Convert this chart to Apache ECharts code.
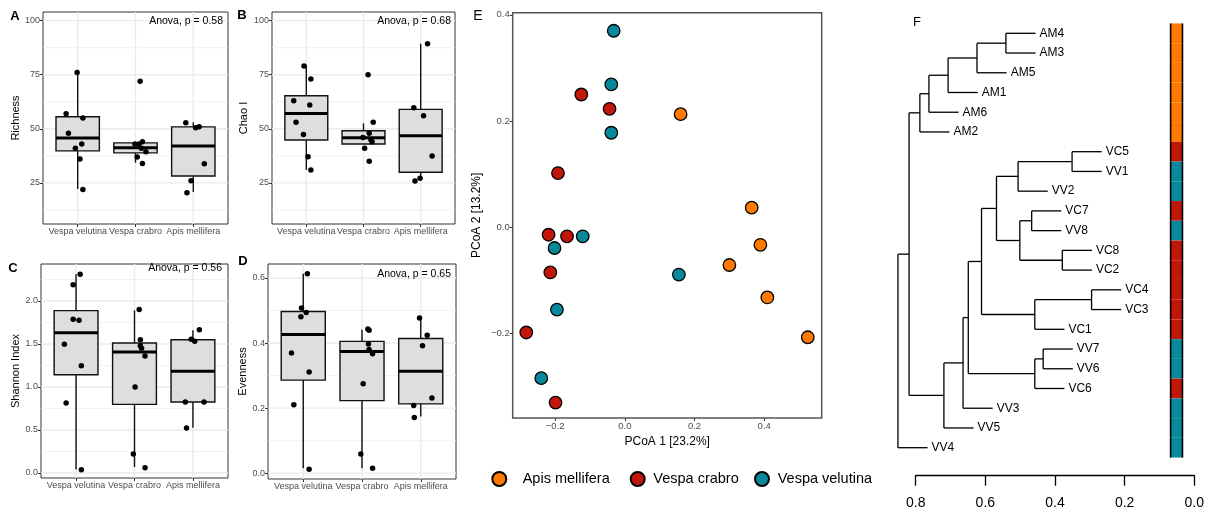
<!DOCTYPE html>
<html>
<head>
<meta charset="utf-8">
<script src="https://cdn.jsdelivr.net/npm/echarts@6/dist/echarts.min.js"></script>
<style>
  html, body { margin: 0; padding: 0; background: #fff; }
  #chart { width: 1212px; height: 510px; }
</style>
</head>
<body>
<div id="chart"></div>
<script>
const groups = ['Vespa velutina', 'Vespa crabro', 'Apis mellifera'];

// A - richness (per group: velutina, crabro, mellifera)
const richPts = [[76, 57, 48, 55, 43, 41, 36, 22], [72, 44, 43, 43, 41, 39.4, 37, 34], [52.8, 50.5, 51, 33.8, 26, 20.4]];
const richJit = [[-0.01, -0.2, -0.16, 0.09, 0.07, -0.04, 0.04, 0.09], [0.08, 0.12, -0.01, 0.06, 0.1, 0.18, 0.03, 0.12], [-0.13, 0.04, 0.1, 0.19, -0.04, -0.11]];
const richBox = [[22.2, 39.8, 45.8, 55.6, 76.4], [34.3, 38.9, 41.2, 43.5, 43.5], [20.8, 28.2, 42.1, 50.9, 53]];

// B - Chao I
const chaoPts = [[79, 73, 63, 61, 53, 47.4, 37.1, 31], [75, 53, 48, 46, 45, 44, 41, 35], [89.3, 59.7, 56, 37.4, 25.9, 27.2]];
const chaoJit = [[-0.04, 0.08, -0.22, 0.06, -0.18, -0.05, 0.03, 0.08], [0.08, 0.17, 0.1, -0.01, 0.13, 0.15, 0.02, 0.1], [0.12, -0.12, 0.05, 0.2, -0.1, -0.01]];
const chaoBox = [[31, 44.8, 57.1, 65.3, 79.3], [43, 43, 45.9, 49.1, 52.5], [27.9, 29.9, 46.8, 59, 89.3]];

// C - Shannon
const shanPts = [[2.31, 2.19, 1.787, 1.775, 1.496, 1.248, 0.814, 0.039], [1.9, 1.55, 1.48, 1.45, 1.36, 1.0, 0.22, 0.06], [1.667, 1.554, 1.531, 0.826, 0.826, 0.523]];
const shanJit = [[0.07, -0.05, -0.05, 0.05, -0.2, 0.09, -0.17, 0.09], [0.08, 0.1, 0.1, 0.12, 0.18, 0.01, -0.02, 0.18], [0.11, -0.03, 0.03, -0.13, 0.19, -0.11]];
const shanBox = [[0.04, 1.143, 1.632, 1.888, 2.31], [0.07, 0.798, 1.407, 1.512, 1.891], [0.527, 0.826, 1.182, 1.55, 1.66]];

// D - evenness
const evenPts = [[0.613, 0.508, 0.494, 0.481, 0.369, 0.311, 0.21, 0.012], [0.443, 0.439, 0.397, 0.38, 0.367, 0.275, 0.059, 0.015], [0.477, 0.424, 0.392, 0.231, 0.208, 0.171]];
const evenJit = [[0.07, -0.03, 0.05, -0.04, -0.2, 0.1, -0.16, 0.1], [0.1, 0.12, 0.11, 0.12, 0.18, 0.02, -0.02, 0.18], [-0.02, 0.11, 0.03, 0.19, -0.12, -0.11]];
const evenBox = [[0.015, 0.286, 0.426, 0.497, 0.613], [0.015, 0.223, 0.374, 0.405, 0.441], [0.174, 0.213, 0.313, 0.414, 0.477]];

const anovaP = ['0.58', '0.68', '0.56', '0.65'];

// E - PCoA
const amX = [0.160, 0.364, 0.389, 0.300, 0.409, 0.525];
const amY = [0.213, 0.037, -0.033, -0.071, -0.132, -0.207];
const vcX = [-0.125, -0.044, -0.192, -0.219, -0.166, -0.214, -0.283, -0.199];
const vcY = [0.250, 0.223, 0.102, -0.014, -0.017, -0.085, -0.198, -0.330];
const vvX = [-0.032, -0.039, -0.039, -0.121, -0.202, 0.155, -0.195, -0.240];
const vvY = [0.370, 0.269, 0.178, -0.017, -0.039, -0.089, -0.155, -0.284];

// F - dendrogram (leaves top to bottom, merges like hclust)
const leafNames = ['AM4', 'AM3', 'AM5', 'AM1', 'AM6', 'AM2', 'VC5', 'VV1', 'VV2', 'VC7', 'VV8', 'VC8', 'VC2', 'VC4', 'VC3', 'VC1', 'VV7', 'VV6', 'VC6', 'VV3', 'VV5', 'VV4'];
const nodeL = ['AM4', 'n1', 'n2', 'n3', 'n4', 'VC5', 'n6', 'VC7', 'VC8', 'n8', 'n7', 'VC4', 'n12', 'n11', 'VV7', 'n15', 'n14', 'n17', 'n18', 'n5', 'n20'];
const nodeR = ['AM3', 'AM5', 'AM1', 'AM6', 'AM2', 'VV1', 'VV2', 'VV8', 'VC2', 'n9', 'n10', 'VC3', 'VC1', 'n13', 'VV6', 'VC6', 'n16', 'VV3', 'VV5', 'n19', 'VV4'];
const nodeH = [0.541, 0.624, 0.707, 0.762, 0.788, 0.351, 0.506, 0.467, 0.379, 0.501, 0.568, 0.295, 0.458, 0.611, 0.434, 0.458, 0.649, 0.664, 0.719, 0.819, 0.851];

const colAM = '#FF7800', colVC = '#C2160A', colVV = '#08899B';
const FONT = '"Liberation Sans", Arial, sans-serif';

const grids = [], xAxes = [], yAxes = [], series = [];

function gridLineItem(params, api) {
  const cs = params.coordSys;
  const dir = api.value(0), v = api.value(1), major = api.value(2);
  const style = { stroke: '#EBEBEB', lineWidth: major ? 1.4 : 0.7 };
  if (dir === 0) {
    const y = api.coord([1, v])[1];
    return { type: 'line', shape: { x1: cs.x, y1: y, x2: cs.x + cs.width, y2: y }, style };
  }
  const x = api.coord([v, 0])[0];
  return { type: 'line', shape: { x1: x, y1: cs.y, x2: x, y2: cs.y + cs.height }, style };
}

function boxItem(params, api) {
  const c = api.value(0);
  const lo = api.coord([c, api.value(1)]);
  const q1 = api.coord([c, api.value(2)]);
  const md = api.coord([c, api.value(3)]);
  const q3 = api.coord([c, api.value(4)]);
  const hi = api.coord([c, api.value(5)]);
  const l = api.coord([c - 0.375, 0])[0], r = api.coord([c + 0.375, 0])[0];
  const ln = { stroke: '#111', lineWidth: 1.4 };
  return {
    type: 'group',
    children: [
      { type: 'line', shape: { x1: lo[0], y1: lo[1], x2: lo[0], y2: q1[1] }, style: ln },
      { type: 'line', shape: { x1: hi[0], y1: hi[1], x2: hi[0], y2: q3[1] }, style: ln },
      { type: 'rect', shape: { x: l, y: q3[1], width: r - l, height: q1[1] - q3[1] }, style: { fill: '#DEDEDE', stroke: '#111', lineWidth: 1.4 } },
      { type: 'line', shape: { x1: l, y1: md[1], x2: r, y2: md[1] }, style: { stroke: '#000', lineWidth: 3 } }
    ]
  };
}

function addBoxPanel(rect, yName, nameGap, yMin, yMax, ticks, fmt, pts, jit, box) {
  const gi = grids.length;
  grids.push({ left: rect[0], top: rect[1], width: rect[2], height: rect[3], show: true, borderColor: '#333', borderWidth: 1, backgroundColor: '#fff', outerBoundsMode: 'none' });
  xAxes.push({
    gridIndex: gi, type: 'value', min: 0.4, max: 3.6,
    splitLine: { show: false }, axisLine: { show: false, onZero: false },
    axisTick: { customValues: [1, 2, 3], length: 3, lineStyle: { color: '#333' } },
    axisLabel: { customValues: [1, 2, 3], formatter: v => groups[Math.round(v) - 1], fontSize: 9, color: '#4D4D4D', margin: 3, fontFamily: FONT }
  });
  yAxes.push({
    gridIndex: gi, type: 'value', min: yMin, max: yMax,
    name: yName, nameLocation: 'middle', nameGap: nameGap,
    nameTextStyle: { fontSize: 11, color: '#000', fontFamily: FONT },
    splitLine: { show: false }, axisLine: { show: false, onZero: false },
    axisTick: { customValues: ticks, length: 3, lineStyle: { color: '#333' } },
    axisLabel: { customValues: ticks, formatter: fmt, fontSize: 9, color: '#4D4D4D', margin: 3, fontFamily: FONT }
  });
  const step = ticks[1] - ticks[0];
  const lines = [];
  ticks.forEach(t => lines.push([0, t, 1]));
  for (let m = ticks[0] - step / 2; m <= yMax; m += step) if (m >= yMin) lines.push([0, m, 0]);
  [1, 2, 3].forEach(c => lines.push([1, c, 1]));
  series.push({ type: 'custom', xAxisIndex: gi, yAxisIndex: gi, z: 1, silent: true, data: lines, renderItem: gridLineItem });
  series.push({ type: 'custom', xAxisIndex: gi, yAxisIndex: gi, z: 2, silent: true, data: box.map((b, i) => [i + 1].concat(b)), renderItem: boxItem });
  const dots = [];
  pts.forEach((arr, g) => arr.forEach((v, k) => dots.push([g + 1 + jit[g][k], v])));
  series.push({ type: 'scatter', xAxisIndex: gi, yAxisIndex: gi, z: 3, silent: true, symbolSize: 5.5, itemStyle: { color: '#000', opacity: 1 }, data: dots });
}

const intFmt = v => String(Math.round(v));
const decFmt = v => v.toFixed(1);

addBoxPanel([43, 12, 185, 212], 'Richness', 22, 6, 104, [25, 50, 75, 100], intFmt, richPts, richJit, richBox);
addBoxPanel([272, 12, 183, 212], 'Chao I', 23, 6, 104, [25, 50, 75, 100], intFmt, chaoPts, chaoJit, chaoBox);
addBoxPanel([41, 264, 187, 214], 'Shannon Index', 20, -0.058, 2.43, [0, 0.5, 1, 1.5, 2], decFmt, shanPts, shanJit, shanBox);
addBoxPanel([268, 264, 188, 215], 'Evenness', 19, -0.018, 0.643, [0, 0.2, 0.4, 0.6], decFmt, evenPts, evenJit, evenBox);

// E - PCoA panel
const pcoaTicks = [-0.2, 0, 0.2, 0.4];
const signFmt = v => v.toFixed(1).replace('-', '\u2212');
grids.push({ left: 512.7, top: 12.7, width: 309, height: 405.3, show: true, borderColor: '#555', borderWidth: 1.5, backgroundColor: '#fff', outerBoundsMode: 'none' });
xAxes.push({
  gridIndex: 4, type: 'value', min: -0.322, max: 0.565,
  name: 'PCoA 1 [23.2%]', nameLocation: 'middle', nameGap: 18,
  nameTextStyle: { fontSize: 12, color: '#000', fontFamily: FONT },
  splitLine: { show: false }, axisLine: { show: false, onZero: false },
  axisTick: { customValues: pcoaTicks, length: 3, lineStyle: { color: '#333' } },
  axisLabel: { customValues: pcoaTicks, formatter: signFmt, fontSize: 9.5, color: '#4D4D4D', margin: 3, fontFamily: FONT }
});
yAxes.push({
  gridIndex: 4, type: 'value', min: -0.359, max: 0.404,
  name: 'PCoA 2 [13.2%]', nameLocation: 'middle', nameGap: 30,
  nameTextStyle: { fontSize: 12, color: '#000', fontFamily: FONT },
  splitLine: { show: false }, axisLine: { show: false, onZero: false },
  axisTick: { customValues: pcoaTicks, length: 3, lineStyle: { color: '#333' } },
  axisLabel: { customValues: pcoaTicks, formatter: signFmt, fontSize: 9.5, color: '#4D4D4D', margin: 3, fontFamily: FONT }
});
const zip = (xs, ys) => xs.map((x, i) => [x, ys[i]]);
[['Apis mellifera', amX, amY, colAM], ['Vespa crabro', vcX, vcY, colVC], ['Vespa velutina', vvX, vvY, colVV]].forEach(s => {
  series.push({
    type: 'scatter', name: s[0], xAxisIndex: 4, yAxisIndex: 4, z: 3, silent: true,
    symbol: 'circle', symbolSize: 12.5,
    itemStyle: { color: s[3], borderColor: '#000', borderWidth: 1.3, opacity: 1 },
    data: zip(s[1], s[2])
  });
});

// F - dendrogram; leaf rows counted from the bottom so the y axis needs no inversion
const nLeaf = leafNames.length;
const hang = 0.1 * Math.max(...nodeH);
const nodeY = {}, nodeHt = {};
leafNames.forEach((n, i) => { nodeY[n] = nLeaf - 1 - i; });
nodeH.forEach((h, i) => {
  const id = 'n' + (i + 1);
  nodeY[id] = (nodeY[nodeL[i]] + nodeY[nodeR[i]]) / 2;
  nodeHt[id] = h;
});
const segs = [], tips = {};
nodeH.forEach((h, i) => {
  const a = nodeL[i], b = nodeR[i];
  segs.push([h, nodeY[a], h, nodeY[b]]);
  [a, b].forEach(ch => {
    const end = ch in nodeHt ? nodeHt[ch] : h - hang;
    if (!(ch in nodeHt)) tips[ch] = end;
    segs.push([h, nodeY[ch], end, nodeY[ch]]);
  });
});
const groupColor = n => (n.startsWith('AM') ? colAM : n.startsWith('VC') ? colVC : colVV);

grids.push({ left: 915.7, top: 33.3, width: 278.6, height: 414.4, show: false, outerBoundsMode: 'none' });
xAxes.push({
  gridIndex: 5, type: 'value', min: 0, max: 0.8, interval: 0.2, inverse: true, offset: 28, position: 'bottom',
  splitLine: { show: false },
  axisLine: { show: true, onZero: false, lineStyle: { color: '#000', width: 1.3 } },
  axisTick: { show: true, length: 10, lineStyle: { color: '#000', width: 1.3 } },
  axisLabel: { formatter: decFmt, fontSize: 14, color: '#000', margin: 20, fontFamily: FONT }
});
yAxes.push({ gridIndex: 5, type: 'value', min: 0, max: nLeaf - 1, show: false });

series.push({
  type: 'custom', xAxisIndex: 5, yAxisIndex: 5, clip: false, silent: true, z: 2,
  data: segs,
  renderItem: (params, api) => {
    const p1 = api.coord([api.value(0), api.value(1)]);
    const p2 = api.coord([api.value(2), api.value(3)]);
    return { type: 'line', shape: { x1: p1[0], y1: p1[1], x2: p2[0], y2: p2[1] }, style: { stroke: '#000', lineWidth: 1.3 } };
  }
});
series.push({
  type: 'custom', xAxisIndex: 5, yAxisIndex: 5, clip: false, silent: true, z: 2,
  data: leafNames.map(n => [tips[n], nodeY[n]]),
  renderItem: (params, api) => {
    const p = api.coord([api.value(0), api.value(1)]);
    return {
      type: 'text', x: p[0] + 4, y: p[1],
      style: { text: leafNames[params.dataIndex], fill: '#000', font: '12px ' + FONT, align: 'left', textAlign: 'left', verticalAlign: 'middle', textVerticalAlign: 'middle' }
    };
  }
});
series.push({
  type: 'custom', xAxisIndex: 5, yAxisIndex: 5, clip: false, silent: true, z: 2,
  data: leafNames.map(n => [0.068, nodeY[n]]),
  renderItem: (params, api) => {
    const i = api.value(1);
    const a = api.coord([0.068, i + 0.5]);
    const b = api.coord([0.034, i - 0.5]);
    const edge = { stroke: '#000', lineWidth: 1.6 };
    return {
      type: 'group',
      children: [
        { type: 'rect', shape: { x: a[0], y: a[1], width: b[0] - a[0], height: b[1] - a[1] }, style: { fill: groupColor(leafNames[params.dataIndex]) } },
        { type: 'line', shape: { x1: a[0], y1: a[1], x2: a[0], y2: b[1] }, style: edge },
        { type: 'line', shape: { x1: b[0], y1: a[1], x2: b[0], y2: b[1] }, style: edge }
      ]
    };
  }
});

function txt(x, y, text, font, align) {
  return { type: 'text', x: x, y: y, silent: true, z: 10,
    style: { text: text, font: font, fill: '#000', align: align, textAlign: align, verticalAlign: 'middle', textVerticalAlign: 'middle' } };
}
const annoFont = '10.5px ' + FONT;
const letterFont = 'bold 13px ' + FONT;

const legendItem = (left, name, pad) => ({
  left: left, top: 466, itemWidth: 14, itemHeight: 14, icon: 'circle',
  data: [name], selectedMode: false,
  textStyle: { fontSize: 14.5, color: '#000', fontFamily: FONT, padding: [0, 0, 0, pad] }
});

const option = {
  animation: false,
  textStyle: { fontFamily: FONT },
  grid: grids,
  xAxis: xAxes,
  yAxis: yAxes,
  series: series,
  legend: [
    legendItem(486.3, 'Apis mellifera', 11.4),
    legendItem(624.7, 'Vespa crabro', 3.6),
    legendItem(749, 'Vespa velutina', 3.7)
  ],
  graphic: [
    txt(15, 16, 'A', letterFont, 'center'),
    txt(242, 15, 'B', letterFont, 'center'),
    txt(13, 268, 'C', letterFont, 'center'),
    txt(243, 261, 'D', letterFont, 'center'),
    txt(478, 16, 'E', '14px ' + FONT, 'center'),
    txt(917, 22, 'F', '13px ' + FONT, 'center'),
    txt(223, 21, 'Anova, p = ' + anovaP[0], annoFont, 'right'),
    txt(451, 21, 'Anova, p = ' + anovaP[1], annoFont, 'right'),
    txt(222, 268, 'Anova, p = ' + anovaP[2], annoFont, 'right'),
    txt(451, 274, 'Anova, p = ' + anovaP[3], annoFont, 'right')
  ]
};

const chart = echarts.init(document.getElementById('chart'));
chart.setOption(option);
</script>
</body>
</html>
